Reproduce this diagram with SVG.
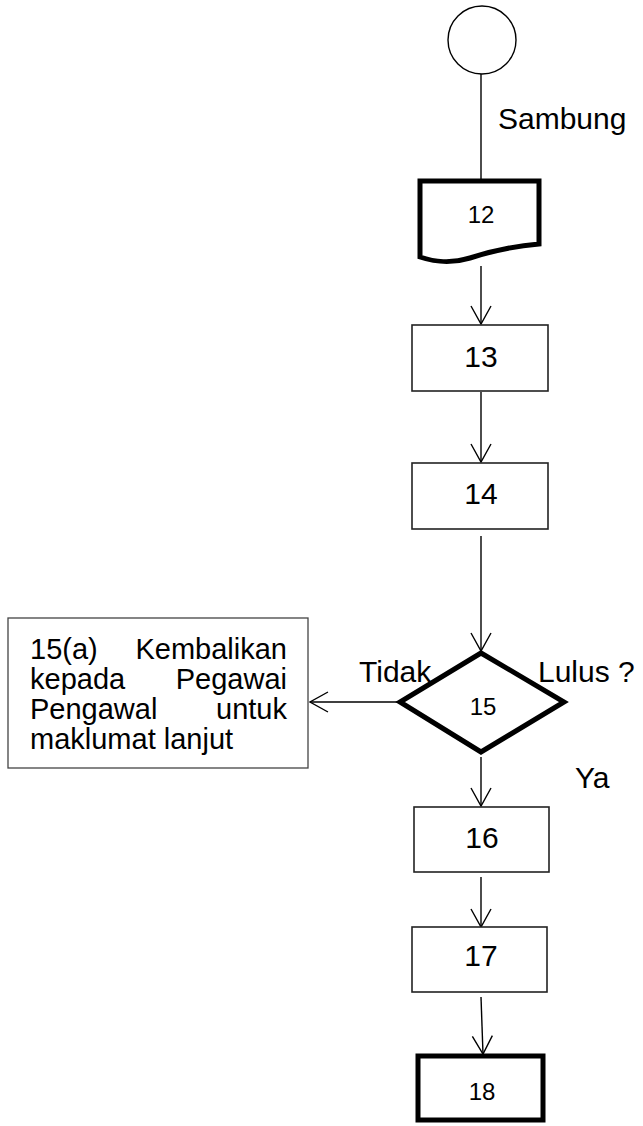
<svg xmlns="http://www.w3.org/2000/svg" width="643" height="1126" viewBox="0 0 643 1126">
<style>
text{font-family:"Liberation Sans",Arial,sans-serif;fill:#000}
.big{font-size:30px}
.mid{font-size:29px}
.small{font-size:24px}
.box{fill:#fff;stroke:#222;stroke-width:1.6}
.thick{fill:#fff;stroke:#000;stroke-width:5}
.line{fill:none;stroke:#000;stroke-width:1.4}
</style>
<defs>
<marker id="arr" viewBox="-20 -11 22 22" markerWidth="22" markerHeight="22" refX="0" refY="0" orient="auto" markerUnits="userSpaceOnUse">
<path d="M-18,-10 L0,0 L-18,10" fill="none" stroke="#000" stroke-width="1.4"/>
</marker>
</defs>
<g id="connectors">
<line class="line" x1="481" y1="74" x2="481" y2="180"/>
<line class="line" x1="481" y1="266" x2="481" y2="324" marker-end="url(#arr)"/>
<line class="line" x1="481" y1="392" x2="481" y2="462" marker-end="url(#arr)"/>
<line class="line" x1="481" y1="536" x2="481" y2="651" marker-end="url(#arr)"/>
<line class="line" x1="398" y1="702" x2="310" y2="702" marker-end="url(#arr)"/>
<line class="line" x1="481" y1="757" x2="481" y2="806" marker-end="url(#arr)"/>
<line class="line" x1="481" y1="877" x2="481" y2="927" marker-end="url(#arr)"/>
<line class="line" x1="481" y1="997" x2="483" y2="1054" marker-end="url(#arr)"/>
</g>
<g id="connector-start">
<circle cx="482" cy="40" r="34" fill="#fff" stroke="#000" stroke-width="1.4"/>
</g>
<text class="big" x="498" y="129">Sambung</text>
<g id="node12">
<path class="thick" d="M420,181 L539,181 L539,244 C515,246 495,250 470,258 C450,264 435,262 420,257 Z"/>
<text class="small" x="481" y="223" text-anchor="middle">12</text>
</g>
<g id="node13">
<rect class="box" x="412" y="325" width="136" height="66"/>
<text class="big" x="481" y="367" text-anchor="middle">13</text>
</g>
<g id="node14">
<rect class="box" x="412" y="463" width="136" height="66"/>
<text class="big" x="481" y="504" text-anchor="middle">14</text>
</g>
<g id="node15">
<polygon points="481,653 564,702 481,752 400,702" fill="#fff" stroke="#000" stroke-width="5" stroke-linejoin="miter"/>
<text class="small" x="483" y="715" text-anchor="middle">15</text>
</g>
<text class="big" x="359" y="682">Tidak</text>
<text class="big" x="538" y="682">Lulus ?</text>
<text class="big" x="575" y="788">Ya</text>
<g id="node15a">
<rect x="8" y="618" width="300" height="150" fill="#fff" stroke="#444" stroke-width="1.3"/>
<text class="mid" x="30" y="659">15(a)</text>
<text class="mid" x="287" y="659" text-anchor="end">Kembalikan</text>
<text class="mid" x="30" y="689">kepada</text>
<text class="mid" x="287" y="689" text-anchor="end">Pegawai</text>
<text class="mid" x="30" y="719">Pengawal</text>
<text class="mid" x="287" y="719" text-anchor="end">untuk</text>
<text class="mid" x="30" y="749">maklumat lanjut</text>
</g>
<g id="node16">
<rect class="box" x="414" y="807" width="135" height="65"/>
<text class="big" x="482" y="848" text-anchor="middle">16</text>
</g>
<g id="node17">
<rect class="box" x="412" y="927" width="135" height="65"/>
<text class="big" x="481" y="966" text-anchor="middle">17</text>
</g>
<g id="node18">
<rect class="thick" x="418" y="1056" width="125" height="64"/>
<text class="small" x="482" y="1100" text-anchor="middle">18</text>
</g>
</svg>
